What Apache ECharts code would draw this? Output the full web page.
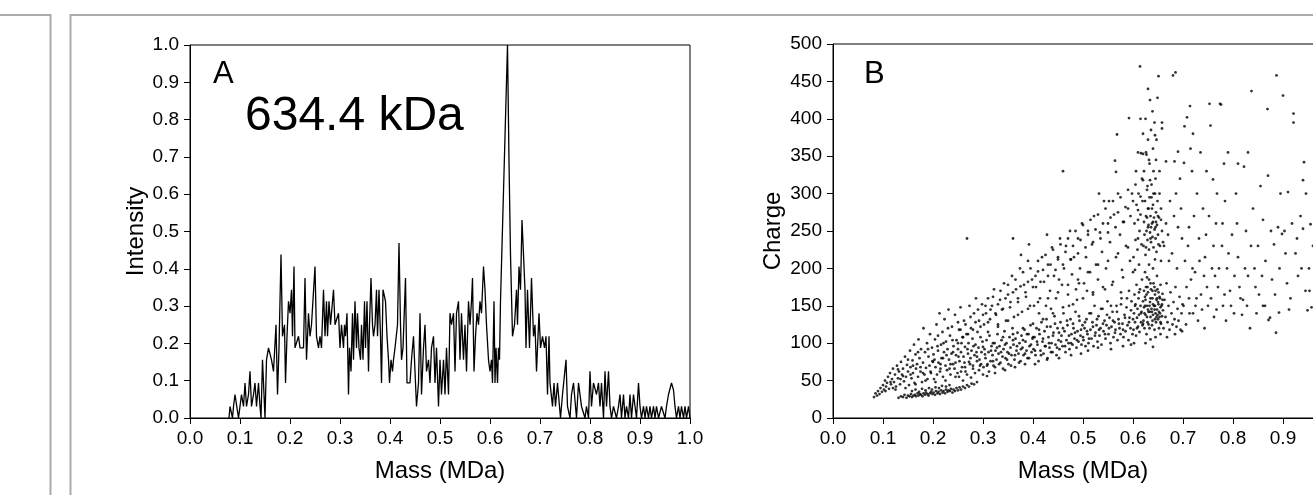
<!DOCTYPE html>
<html>
<head>
<meta charset="utf-8">
<script src="https://cdn.jsdelivr.net/npm/echarts@6/dist/echarts.min.js"></script>
<style>
html,body{margin:0;padding:0;background:#fff;}
#chart{width:1313px;height:495px;}
</style>
</head>
<body>
<div id="chart"></div>
<script>
// ---- Panel A: mass spectrum (mass MDa, normalised intensity) ----
const spectrumA = [[0.078,0],[0.080,0.031],[0.083,0.031],[0.085,0],[0.087,0.031],[0.090,0.063],[0.093,0.063],[0.097,0],[0.100,0.031],[0.103,0.063],[0.107,0.031],[0.110,0.094],[0.113,0.031],[0.117,0.063],[0.120,0.125],[0.123,0.031],[0.127,0.063],[0.130,0.094],[0.133,0.031],[0.137,0.094],[0.140,0.031],[0.142,0],[0.145,0.156],[0.148,0.156],[0.150,0],[0.153,0.156],[0.157,0.188],[0.160,0.188],[0.163,0.156],[0.167,0.125],[0.172,0.25],[0.175,0.063],[0.178,0.188],[0.182,0.438],[0.185,0.219],[0.189,0.25],[0.191,0.094],[0.194,0.219],[0.197,0.313],[0.200,0.281],[0.203,0.344],[0.205,0.219],[0.208,0.406],[0.210,0.188],[0.213,0.188],[0.217,0.219],[0.220,0.188],[0.227,0.188],[0.230,0.375],[0.233,0.156],[0.237,0.281],[0.240,0.219],[0.243,0.25],[0.247,0.25],[0.250,0.406],[0.253,0.219],[0.257,0.188],[0.260,0.219],[0.263,0.188],[0.267,0.344],[0.270,0.219],[0.273,0.313],[0.275,0.219],[0.278,0.313],[0.281,0.25],[0.283,0.281],[0.287,0.344],[0.290,0.25],[0.293,0.25],[0.297,0.281],[0.300,0.188],[0.303,0.25],[0.307,0.188],[0.309,0.25],[0.311,0.219],[0.314,0.281],[0.317,0.063],[0.319,0.188],[0.322,0.125],[0.325,0.281],[0.327,0.156],[0.330,0.313],[0.333,0.188],[0.335,0.281],[0.338,0.188],[0.341,0.156],[0.343,0.25],[0.346,0.156],[0.349,0.313],[0.351,0.188],[0.354,0.313],[0.357,0.125],[0.359,0.25],[0.362,0.375],[0.365,0.25],[0.367,0.219],[0.370,0.25],[0.373,0.344],[0.375,0.219],[0.378,0.344],[0.381,0.219],[0.383,0.094],[0.386,0.344],[0.389,0.344],[0.391,0.313],[0.394,0.219],[0.397,0.156],[0.399,0.094],[0.402,0.156],[0.405,0.125],[0.407,0.156],[0.410,0.188],[0.413,0.188],[0.415,0.25],[0.418,0.469],[0.421,0.25],[0.423,0.156],[0.426,0.188],[0.429,0.188],[0.431,0.375],[0.434,0.094],[0.440,0.094],[0.443,0.156],[0.447,0.219],[0.450,0.219],[0.453,0.031],[0.457,0.094],[0.460,0.281],[0.463,0.063],[0.467,0.188],[0.470,0.25],[0.473,0.125],[0.477,0.156],[0.480,0.094],[0.483,0.188],[0.487,0.219],[0.490,0.094],[0.493,0.188],[0.497,0.031],[0.500,0.156],[0.503,0.063],[0.507,0.156],[0.510,0.063],[0.513,0.188],[0.517,0.063],[0.520,0.281],[0.523,0.25],[0.527,0.281],[0.530,0.125],[0.533,0.281],[0.537,0.313],[0.540,0.156],[0.543,0.281],[0.547,0.156],[0.550,0.25],[0.553,0.125],[0.557,0.313],[0.560,0.25],[0.563,0.313],[0.565,0.375],[0.568,0.125],[0.571,0.219],[0.574,0.281],[0.577,0.25],[0.580,0.313],[0.583,0.281],[0.587,0.406],[0.590,0.344],[0.593,0.25],[0.597,0.156],[0.600,0.125],[0.603,0.156],[0.605,0.094],[0.608,0.313],[0.610,0.094],[0.612,0.188],[0.615,0.094],[0.617,0.188],[0.619,0.156],[0.621,0.313],[0.635,1.0],[0.638,0.688],[0.641,0.438],[0.645,0.219],[0.649,0.25],[0.653,0.344],[0.655,0.25],[0.658,0.406],[0.661,0.344],[0.664,0.531],[0.667,0.438],[0.670,0.344],[0.672,0.188],[0.675,0.344],[0.679,0.188],[0.683,0.375],[0.687,0.219],[0.690,0.25],[0.693,0.125],[0.698,0.281],[0.701,0.188],[0.705,0.219],[0.709,0.188],[0.712,0.219],[0.715,0.063],[0.718,0.219],[0.720,0.094],[0.725,0.031],[0.728,0.094],[0.731,0.031],[0.735,0.094],[0.739,0.031],[0.741,0],[0.745,0.063],[0.748,0.063],[0.752,0.156],[0.755,0.031],[0.760,0],[0.763,0.063],[0.767,0.094],[0.770,0.094],[0.773,0],[0.777,0.094],[0.780,0.094],[0.783,0.031],[0.787,0.031],[0.790,0],[0.793,0.031],[0.797,0],[0.800,0.125],[0.803,0.031],[0.807,0.094],[0.810,0.094],[0.813,0.063],[0.817,0.094],[0.820,0.031],[0.823,0.094],[0.827,0],[0.830,0.125],[0.833,0.031],[0.837,0.125],[0.840,0.031],[0.843,0],[0.847,0.031],[0.850,0.031],[0.853,0],[0.857,0.031],[0.860,0.063],[0.863,0],[0.867,0.063],[0.870,0],[0.873,0.031],[0.877,0],[0.880,0.063],[0.883,0],[0.887,0.063],[0.890,0.063],[0.893,0],[0.897,0.094],[0.900,0.031],[0.903,0],[0.907,0.031],[0.910,0],[0.913,0.031],[0.917,0],[0.920,0.031],[0.923,0],[0.927,0.031],[0.930,0],[0.933,0.031],[0.937,0],[0.940,0],[0.943,0.031],[0.947,0.031],[0.950,0],[0.953,0.031],[0.957,0.063],[0.960,0.063],[0.963,0.094],[0.967,0.075],[0.970,0.031],[0.973,0],[0.977,0.031],[0.980,0],[0.983,0.031],[0.987,0],[0.990,0.031],[0.993,0],[0.997,0.031],[1.0,0]];

// ---- Panel B: individual ions (mass MDa, charge) ----
const ionsLowEdge = [[0.131,27],[0.136,29],[0.14,28],[0.143,31],[0.147,27],[0.15,30],[0.153,29],[0.156,32],[0.158,28],[0.161,30],[0.164,31],[0.166,29],[0.169,33],[0.171,30],[0.174,32],[0.176,31],[0.179,29],[0.181,33],[0.184,31],[0.186,34],[0.189,32],[0.191,30],[0.194,33],[0.196,35],[0.199,32],[0.201,34],[0.204,31],[0.206,36],[0.209,33],[0.211,35],[0.214,32],[0.216,37],[0.219,34],[0.221,36],[0.224,33],[0.226,38],[0.229,35],[0.231,37],[0.234,36],[0.236,39],[0.239,34],[0.241,38],[0.244,36],[0.247,40],[0.25,37],[0.253,41],[0.256,38],[0.26,42],[0.264,40],[0.268,44],[0.272,42],[0.277,46],[0.282,45],[0.288,48],[0.158,36],[0.165,38],[0.172,35],[0.178,39],[0.185,37],[0.192,40],[0.198,38],[0.205,41],[0.212,40],[0.218,43],[0.226,42],[0.233,44]];
const ionsSmall = [[0.082,28],[0.085,33],[0.088,30],[0.09,36],[0.093,32],[0.095,40],[0.098,35],[0.1,44],[0.102,38],[0.104,50],[0.106,42],[0.108,47],[0.11,55],[0.112,39],[0.114,60],[0.116,45],[0.118,52],[0.12,66],[0.122,48],[0.124,58],[0.126,42],[0.128,70],[0.13,53],[0.132,62],[0.134,45],[0.136,75],[0.138,58],[0.14,66],[0.142,49],[0.144,82],[0.146,55],[0.148,71],[0.15,62],[0.152,44],[0.154,90],[0.155,68],[0.157,53],[0.159,77],[0.16,60],[0.162,98],[0.163,47],[0.165,85],[0.166,66],[0.168,72],[0.17,55],[0.171,105],[0.173,80],[0.175,62],[0.176,92],[0.178,48],[0.18,74],[0.181,120],[0.183,58],[0.184,88],[0.186,67],[0.188,100],[0.189,52],[0.191,82],[0.193,70],[0.194,112],[0.196,60],[0.198,94],[0.199,76],[0.201,85],[0.202,52],[0.204,105],[0.205,68],[0.207,125],[0.208,58],[0.21,90],[0.211,74],[0.213,140],[0.214,62],[0.216,98],[0.217,80],[0.219,115],[0.22,55],[0.222,88],[0.223,132],[0.225,70],[0.226,102],[0.228,64],[0.229,92],[0.231,145],[0.232,78],[0.234,110],[0.235,58],[0.237,86],[0.238,122],[0.24,72],[0.241,96],[0.243,66],[0.244,138],[0.246,84],[0.247,104],[0.249,60],[0.25,92],[0.252,118],[0.253,76],[0.255,148],[0.256,88],[0.258,68],[0.259,108],[0.261,82],[0.262,130],[0.264,95],[0.265,62],[0.267,112],[0.268,240],[0.27,86],[0.271,100],[0.273,150],[0.274,72],[0.276,120],[0.277,90],[0.279,106],[0.28,66],[0.282,140],[0.283,84],[0.285,98],[0.286,160],[0.288,76],[0.289,115],[0.291,94],[0.292,130],[0.294,70],[0.295,108],[0.297,88],[0.298,152],[0.299,102],[0.203,78],[0.209,96],[0.215,72],[0.221,100],[0.227,84],[0.233,66],[0.239,104],[0.245,74],[0.251,82],[0.257,100],[0.263,74],[0.269,92],[0.275,80],[0.281,96],[0.287,88],[0.293,78],[0.105,36],[0.115,48],[0.125,38],[0.135,52],[0.145,40],[0.155,58],[0.165,45],[0.175,68],[0.185,50],[0.195,62],[0.205,48],[0.215,66],[0.225,50],[0.235,72],[0.245,55],[0.12,40],[0.14,56],[0.16,70],[0.18,60],[0.2,75],[0.22,80],[0.24,88],[0.17,88],[0.19,92],[0.21,110],[0.23,120],[0.25,128],[0.15,78],[0.13,65]];
const ionsMid = [[0.301,68],[0.303,92],[0.305,80],[0.307,104],[0.309,72],[0.311,88],[0.313,110],[0.315,76],[0.317,96],[0.319,84],[0.321,70],[0.323,100],[0.325,90],[0.327,78],[0.329,112],[0.331,86],[0.333,96],[0.335,74],[0.337,104],[0.339,82],[0.341,92],[0.343,116],[0.345,80],[0.347,100],[0.349,88],[0.351,72],[0.353,108],[0.355,94],[0.357,84],[0.359,120],[0.361,98],[0.363,78],[0.365,106],[0.367,90],[0.369,114],[0.371,86],[0.373,100],[0.375,76],[0.377,110],[0.379,94],[0.381,84],[0.383,118],[0.385,102],[0.387,90],[0.389,80],[0.391,112],[0.393,96],[0.395,124],[0.397,88],[0.399,106],[0.302,125],[0.306,140],[0.31,160],[0.314,132],[0.318,150],[0.322,172],[0.326,138],[0.33,125],[0.334,158],[0.338,145],[0.342,180],[0.346,130],[0.35,165],[0.354,148],[0.358,190],[0.362,135],[0.366,172],[0.37,155],[0.374,200],[0.378,142],[0.382,178],[0.386,162],[0.39,210],[0.394,150],[0.398,185],[0.36,240],[0.392,232],[0.376,218],[0.308,56],[0.324,60],[0.344,64],[0.364,68],[0.384,72],[0.401,92],[0.403,108],[0.405,84],[0.407,120],[0.409,98],[0.411,76],[0.413,112],[0.415,90],[0.417,128],[0.419,102],[0.421,86],[0.423,116],[0.425,96],[0.427,132],[0.429,80],[0.431,108],[0.433,94],[0.435,122],[0.437,100],[0.439,88],[0.441,114],[0.443,136],[0.445,98],[0.447,84],[0.449,120],[0.451,104],[0.453,92],[0.455,128],[0.457,110],[0.459,96],[0.461,140],[0.463,116],[0.465,88],[0.467,104],[0.469,124],[0.471,100],[0.473,92],[0.475,132],[0.477,112],[0.479,98],[0.481,120],[0.483,106],[0.485,142],[0.487,94],[0.489,116],[0.491,102],[0.493,130],[0.495,110],[0.497,98],[0.499,124],[0.402,150],[0.406,175],[0.41,196],[0.414,160],[0.418,215],[0.422,182],[0.426,150],[0.43,205],[0.434,170],[0.438,228],[0.442,190],[0.446,160],[0.45,212],[0.454,240],[0.458,178],[0.462,200],[0.466,230],[0.47,165],[0.474,250],[0.478,192],[0.482,215],[0.486,172],[0.49,240],[0.494,200],[0.498,260],[0.412,140],[0.436,146],[0.46,330],[0.472,150],[0.488,158],[0.428,245],[0.452,185],[0.476,212],[0.492,180],[0.404,72],[0.428,78],[0.452,80],[0.476,84],[0.496,86]];
const ionsHigh = [[0.501,104],[0.503,120],[0.505,96],[0.507,132],[0.509,112],[0.511,100],[0.513,140],[0.515,118],[0.517,106],[0.519,128],[0.521,96],[0.523,150],[0.525,114],[0.527,124],[0.529,102],[0.531,136],[0.533,110],[0.535,120],[0.537,98],[0.539,146],[0.541,116],[0.543,130],[0.545,106],[0.547,124],[0.549,156],[0.551,112],[0.553,134],[0.555,100],[0.557,122],[0.559,142],[0.561,108],[0.563,128],[0.565,118],[0.567,150],[0.569,104],[0.571,132],[0.573,120],[0.575,112],[0.577,160],[0.579,126],[0.581,108],[0.583,138],[0.585,116],[0.587,148],[0.589,124],[0.591,104],[0.593,134],[0.595,120],[0.597,156],[0.599,112],[0.502,180],[0.506,215],[0.51,250],[0.514,195],[0.518,232],[0.522,270],[0.526,205],[0.53,185],[0.534,248],[0.538,222],[0.542,290],[0.546,200],[0.55,260],[0.554,235],[0.558,178],[0.562,272],[0.566,215],[0.57,300],[0.574,245],[0.578,198],[0.582,262],[0.586,230],[0.59,280],[0.594,210],[0.598,300],[0.508,170],[0.532,300],[0.552,290],[0.564,344],[0.566,329],[0.568,379],[0.576,168],[0.592,170],[0.544,172],[0.52,165],[0.51,90],[0.53,94],[0.556,92],[0.58,96],[0.596,98]];
const ionsLowerBand = [[0.252,55],[0.256,62],[0.26,50],[0.264,68],[0.268,58],[0.272,75],[0.276,54],[0.28,70],[0.284,60],[0.288,82],[0.292,64],[0.296,72],[0.3,58],[0.304,85],[0.308,70],[0.312,62],[0.316,90],[0.32,76],[0.324,68],[0.328,94],[0.332,72],[0.336,88],[0.34,66],[0.344,98],[0.348,78],[0.352,86],[0.356,70],[0.36,104],[0.364,84],[0.368,96],[0.372,74],[0.376,92],[0.38,104],[0.384,86],[0.388,112],[0.392,80],[0.396,98],[0.4,108],[0.404,90],[0.408,102],[0.412,118],[0.416,84],[0.42,106],[0.424,96],[0.428,122],[0.432,100],[0.436,88],[0.44,110],[0.444,126],[0.448,94],[0.452,114],[0.456,102],[0.46,120],[0.464,96],[0.468,130],[0.472,110],[0.476,100],[0.48,126],[0.484,114],[0.488,104],[0.492,136],[0.496,118],[0.5,108],[0.504,128],[0.508,116],[0.512,106],[0.516,140],[0.52,122],[0.524,110],[0.528,132],[0.532,118],[0.536,146],[0.54,126],[0.544,112],[0.548,138],[0.552,120],[0.556,150],[0.56,130],[0.564,114],[0.568,142],[0.572,126],[0.576,152],[0.58,118],[0.584,134],[0.588,160],[0.592,128],[0.596,144],[0.6,132],[0.604,150],[0.608,120],[0.612,168],[0.616,140],[0.62,126]];
const ionsUpperBand = [[0.25,100],[0.255,118],[0.26,108],[0.265,125],[0.27,112],[0.275,135],[0.28,118],[0.285,128],[0.29,145],[0.295,122],[0.3,138],[0.305,150],[0.31,128],[0.315,145],[0.32,162],[0.325,140],[0.33,152],[0.335,170],[0.34,146],[0.345,160],[0.35,178],[0.355,155],[0.36,168],[0.365,185],[0.37,160],[0.375,176],[0.38,195],[0.385,168],[0.39,182],[0.395,200],[0.4,175],[0.405,190],[0.41,210],[0.415,182],[0.42,198],[0.425,218],[0.43,190],[0.435,205],[0.44,225],[0.445,198],[0.45,215],[0.455,232],[0.46,205],[0.465,222],[0.47,240],[0.475,212],[0.48,230],[0.485,250],[0.49,220],[0.495,238],[0.5,258],[0.505,228],[0.51,245],[0.515,265],[0.52,235],[0.525,252],[0.53,272],[0.535,240],[0.54,260],[0.545,280],[0.55,248],[0.555,268],[0.56,290],[0.565,255],[0.57,275],[0.575,295],[0.58,262],[0.585,282],[0.59,305],[0.595,270],[0.6,290],[0.605,312],[0.61,278],[0.615,296],[0.62,318],[0.3,95],[0.32,100],[0.34,108],[0.36,112],[0.38,120],[0.4,126],[0.42,132],[0.44,140],[0.46,148],[0.48,152],[0.5,160],[0.52,168],[0.54,175],[0.56,182],[0.58,188],[0.6,195],[0.31,115],[0.33,122],[0.35,130],[0.37,138],[0.39,146],[0.41,155],[0.43,160],[0.45,168],[0.47,178],[0.49,185],[0.51,195],[0.53,205],[0.55,210],[0.57,220],[0.59,228],[0.61,240]];
const ionsPeak = [[0.601,118],[0.602,140],[0.603,165],[0.604,128],[0.605,152],[0.606,110],[0.607,178],[0.608,134],[0.609,146],[0.61,122],[0.611,160],[0.612,138],[0.613,115],[0.614,172],[0.615,150],[0.616,128],[0.617,142],[0.618,185],[0.619,124],[0.62,156],[0.601,215],[0.603,260],[0.605,238],[0.607,285],[0.609,225],[0.611,300],[0.613,250],[0.615,272],[0.617,232],[0.619,290],[0.604,198],[0.612,205],[0.618,320],[0.606,330],[0.61,355],[0.615,400],[0.614,470],[0.616,354],[0.62,380],[0.592,401],[0.61,265],[0.602,100],[0.621,130],[0.622,148],[0.623,120],[0.624,162],[0.625,138],[0.626,175],[0.627,112],[0.628,150],[0.629,128],[0.63,168],[0.631,142],[0.632,185],[0.633,120],[0.634,155],[0.635,135],[0.636,172],[0.637,146],[0.638,124],[0.639,160],[0.64,138],[0.641,180],[0.642,150],[0.643,118],[0.644,165],[0.645,140],[0.646,128],[0.647,158],[0.648,145],[0.649,172],[0.65,132],[0.651,152],[0.652,120],[0.653,162],[0.654,140],[0.655,178],[0.656,126],[0.657,150],[0.658,136],[0.659,166],[0.66,144],[0.625,158],[0.63,145],[0.635,160],[0.64,152],[0.645,170],[0.65,155],[0.655,148],[0.622,170],[0.628,135],[0.638,142],[0.644,132],[0.648,160],[0.652,142],[0.658,152],[0.633,150],[0.643,145],[0.653,135],[0.621,230],[0.622,262],[0.623,245],[0.624,290],[0.625,218],[0.626,270],[0.627,250],[0.628,305],[0.629,238],[0.63,280],[0.631,258],[0.632,225],[0.633,295],[0.634,248],[0.635,270],[0.636,235],[0.637,312],[0.638,260],[0.639,242],[0.64,285],[0.641,228],[0.642,268],[0.643,252],[0.644,300],[0.645,240],[0.646,275],[0.647,222],[0.648,258],[0.649,290],[0.65,245],[0.652,268],[0.654,230],[0.656,280],[0.658,250],[0.66,235],[0.63,255],[0.635,240],[0.64,262],[0.645,255],[0.65,270],[0.638,280],[0.628,268],[0.624,195],[0.632,205],[0.64,200],[0.648,190],[0.656,210],[0.628,188],[0.644,212],[0.622,330],[0.626,355],[0.63,372],[0.633,340],[0.636,385],[0.64,360],[0.643,395],[0.646,345],[0.649,428],[0.651,457],[0.63,440],[0.658,387],[0.658,395],[0.625,400],[0.62,353],[0.627,352],[0.653,330],[0.634,318],[0.625,100],[0.635,105],[0.645,108],[0.655,112],[0.64,95],[0.623,140],[0.627,165],[0.631,125],[0.635,180],[0.639,130],[0.643,175],[0.647,135],[0.651,168],[0.655,128],[0.659,158],[0.624,150],[0.629,175],[0.634,142],[0.639,170],[0.644,150],[0.649,138],[0.654,160],[0.626,228],[0.631,280],[0.636,255],[0.641,300],[0.646,262],[0.651,232],[0.656,265],[0.629,310],[0.637,295],[0.645,320],[0.653,300],[0.632,345],[0.641,330],[0.647,372],[0.639,410],[0.634,425],[0.644,378]];
const ionsHeavy = [[0.661,120],[0.663,158],[0.665,135],[0.667,180],[0.669,128],[0.671,150],[0.673,118],[0.675,168],[0.677,140],[0.679,125],[0.681,155],[0.683,132],[0.685,175],[0.687,122],[0.689,146],[0.691,130],[0.693,162],[0.695,118],[0.697,140],[0.699,152],[0.662,230],[0.666,260],[0.67,245],[0.674,290],[0.678,220],[0.682,270],[0.686,300],[0.69,255],[0.694,320],[0.698,240],[0.666,343],[0.683,343],[0.69,356],[0.68,458],[0.685,462],[0.672,210],[0.688,200],[0.696,280],[0.668,108],[0.684,112],[0.698,116],[0.702,341],[0.706,125],[0.708,402],[0.71,230],[0.712,160],[0.714,417],[0.716,185],[0.718,330],[0.72,140],[0.722,270],[0.725,150],[0.728,300],[0.73,130],[0.733,210],[0.736,165],[0.74,280],[0.743,120],[0.746,245],[0.75,150],[0.753,420],[0.755,391],[0.758,200],[0.76,319],[0.762,135],[0.766,260],[0.77,175],[0.774,420],[0.776,419],[0.778,230],[0.78,150],[0.784,290],[0.788,200],[0.79,355],[0.794,170],[0.798,245],[0.704,210],[0.724,195],[0.744,215],[0.764,190],[0.786,130],[0.735,355],[0.768,300],[0.712,255],[0.752,270],[0.802,140],[0.806,300],[0.81,215],[0.815,160],[0.818,138],[0.82,158],[0.822,336],[0.826,250],[0.83,190],[0.834,120],[0.837,437],[0.84,280],[0.845,175],[0.847,140],[0.85,230],[0.855,310],[0.86,150],[0.865,210],[0.869,413],[0.871,131],[0.874,134],[0.878,185],[0.882,232],[0.886,114],[0.887,458],[0.89,255],[0.892,141],[0.895,300],[0.898,246],[0.9,431],[0.87,324],[0.83,355],[0.81,340],[0.86,265],[0.903,250],[0.908,180],[0.91,302],[0.915,160],[0.921,407],[0.921,395],[0.925,220],[0.93,190],[0.935,270],[0.94,253],[0.94,318],[0.942,342],[0.945,170],[0.949,144],[0.952,200],[0.955,259],[0.957,148],[0.96,230],[0.963,180],[0.966,210],[0.701,150],[0.707,175],[0.713,140],[0.719,200],[0.727,160],[0.732,240],[0.738,145],[0.742,190],[0.748,175],[0.756,160],[0.761,230],[0.767,145],[0.772,200],[0.779,260],[0.783,165],[0.791,220],[0.796,150],[0.803,190],[0.808,260],[0.813,175],[0.824,200],[0.828,150],[0.836,230],[0.843,200],[0.852,165],[0.858,190],[0.864,150],[0.876,250],[0.884,165],[0.893,200],[0.905,220],[0.912,145],[0.918,260],[0.928,240],[0.937,200],[0.946,300],[0.953,170],[0.703,390],[0.72,380],[0.747,330],[0.782,340],[0.715,360]];

const massTicks = {min: 0, max: 1, interval: 0.1};
const FONT = 'Liberation Sans, Arial, sans-serif';

const chart = echarts.init(document.getElementById('chart'));

function xAx(grid) {
  return {
    gridIndex: grid, type: 'value', min: massTicks.min, max: massTicks.max, interval: massTicks.interval,
    name: 'Mass (MDa)', nameLocation: 'middle', nameGap: 41,
    nameTextStyle: {fontSize: 24, color: '#000', fontFamily: FONT},
    axisLine: {onZero: false, lineStyle: {color: '#000', width: 1}},
    axisTick: {length: 6, lineStyle: {color: '#000'}},
    axisLabel: {fontSize: 19, color: '#000', fontFamily: FONT, margin: 11, formatter: v => v.toFixed(1)},
    splitLine: {show: false}
  };
}
function yAx(grid, name, max, interval, fmt, gap) {
  return {
    gridIndex: grid, type: 'value', min: 0, max: max, interval: interval,
    name: name, nameLocation: 'middle', nameGap: gap,
    nameTextStyle: {fontSize: 24, color: '#000', fontFamily: FONT},
    axisLine: {show: true, onZero: false, lineStyle: {color: '#000', width: 1}},
    axisTick: {show: true, length: 6, lineStyle: {color: '#000'}},
    axisLabel: {fontSize: 19, color: '#000', fontFamily: FONT, margin: 11, formatter: fmt},
    splitLine: {show: false}
  };
}

chart.setOption({
  animation: false,
  backgroundColor: '#fff',
  grid: [
    {left: 190, top: 45, width: 500, height: 373, show: true, borderColor: '#000', borderWidth: 1, backgroundColor: 'transparent', containLabel: false, outerBoundsMode: 'none'},
    {left: 833, top: 44, width: 500, height: 374, show: true, borderColor: '#000', borderWidth: 1, backgroundColor: 'transparent', containLabel: false, outerBoundsMode: 'none'}
  ],
  xAxis: [xAx(0), xAx(1)],
  yAxis: [
    yAx(0, 'Intensity', 1, 0.1, v => v.toFixed(1), 41),
    yAx(1, 'Charge', 500, 50, v => String(v), 48)
  ],
  series: [
    {type: 'line', xAxisIndex: 0, yAxisIndex: 0, data: spectrumA, showSymbol: false, symbol: 'none',
     lineStyle: {color: '#000', width: 1.3}, silent: true},
    {type: 'scatter', xAxisIndex: 1, yAxisIndex: 1,
     data: [].concat(ionsLowEdge, ionsSmall, ionsMid, ionsHigh, ionsLowerBand, ionsUpperBand, ionsPeak, ionsHeavy),
     symbol: 'circle', symbolSize: 2.8, itemStyle: {color: '#000'}, silent: true}
  ],
  graphic: [
    {type: 'polyline', shape: {points: [[0, 15], [50.5, 15], [50.5, 495]]}, style: {stroke: '#ababab', lineWidth: 2, fill: null}},
    {type: 'polyline', shape: {points: [[70.5, 495], [70.5, 15], [1313, 15]]}, style: {stroke: '#ababab', lineWidth: 2, fill: null}},
    {type: 'text', left: 213, top: 59, style: {text: 'A', fontSize: 31, fontFamily: FONT, fill: '#000'}},
    {type: 'text', left: 245, top: 93, style: {text: '634.4 kDa', fontSize: 48, fontFamily: FONT, fill: '#000'}},
    {type: 'text', left: 864, top: 59, style: {text: 'B', fontSize: 31, fontFamily: FONT, fill: '#000'}}
  ]
});
</script>
</body>
</html>
